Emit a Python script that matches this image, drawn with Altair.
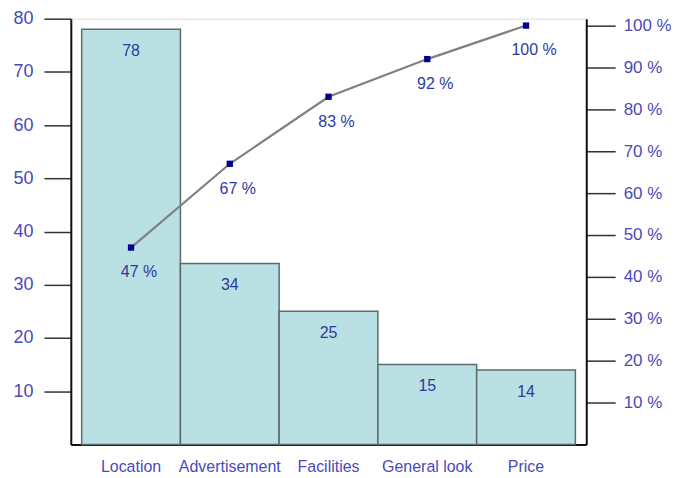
import altair as alt
import pandas as pd

categories = ["Location", "Advertisement", "Facilities", "General look", "Price"]
counts = [78, 34, 25, 15, 14]
cum_pct = [47, 67, 83, 92, 100]
cum_labels = ["47 %", "67 %", "83 %", "92 %", "100 %"]

df = pd.DataFrame({"cat": categories, "count": counts, "cum": cum_pct, "cum_label": cum_labels})

LABEL_BLUE = "#4a4ab8"
TEXT_BLUE = "#2d3a9e"

x_enc = alt.X("cat:N", sort=categories,
              scale=alt.Scale(paddingInner=0, paddingOuter=0.11),
              axis=alt.Axis(title=None, labelAngle=0, ticks=False, labelPadding=14,
                            labelFontSize=16, labelColor=LABEL_BLUE, labelFont="Liberation Sans",
                            domainColor="#111", domainWidth=2))

y_left = alt.Y("count:Q", scale=alt.Scale(domain=[0, 80], nice=False),
               axis=alt.Axis(title=None, values=[10, 20, 30, 40, 50, 60, 70, 80], grid=False,
                             tickSize=27, tickWidth=1.5, tickColor="#333", labelPadding=11,
                             labelFontSize=18, labelColor=LABEL_BLUE, labelFont="Liberation Sans",
                             domainColor="#111", domainWidth=2))

base = alt.Chart(df)

bars = base.mark_bar(color="#b9e0e3", stroke="#5f6b6b", strokeWidth=1.5).encode(x=x_enc, y=y_left)
bar_text = base.mark_text(dy=22, fontSize=16, color=TEXT_BLUE, font="Liberation Sans").encode(
    x=alt.X("cat:N", sort=categories), y="count:Q", text="count:Q")

left = alt.layer(bars, bar_text)

y_right = alt.Y("cum:Q", scale=alt.Scale(domain=[0, 101.65], nice=False),
                axis=alt.Axis(title=None, orient="right", values=[10, 20, 30, 40, 50, 60, 70, 80, 90, 100],
                              labelExpr="datum.value + ' %'", grid=False,
                              tickSize=29, tickWidth=1.5, tickColor="#333", labelPadding=8,
                              labelFontSize=17, labelColor=LABEL_BLUE, labelFont="Liberation Sans",
                              domainColor="#111", domainWidth=2))

line = base.mark_line(color="#808080", strokeWidth=2.2).encode(x=alt.X("cat:N", sort=categories), y=y_right)
pts = base.mark_square(size=40, color="#00008c", opacity=1).encode(x=alt.X("cat:N", sort=categories), y="cum:Q")
pt_text = base.mark_text(dy=25, dx=8, fontSize=16, color=TEXT_BLUE, font="Liberation Sans").encode(
    x=alt.X("cat:N", sort=categories), y="cum:Q", text="cum_label:N")

right = alt.layer(line, pts, pt_text)

chart = alt.layer(left, right).resolve_scale(y="independent").properties(
    width=517, height=427,
    autosize=alt.AutoSizeParams(type="none"),
    padding={"left": 63, "top": 10, "right": 85, "bottom": 30}
).configure_view(stroke=None).configure(background="white")

chart.save("out.html", embed_options={"renderer": "svg", "actions": False})
